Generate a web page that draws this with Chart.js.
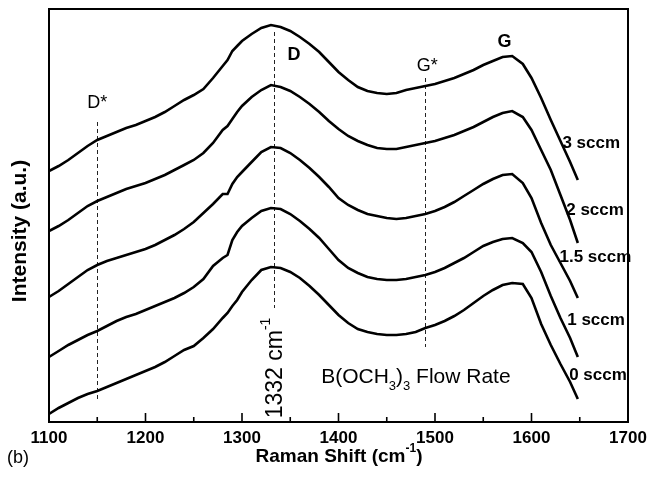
<!DOCTYPE html>
<html><head><meta charset="utf-8">
<script src="https://cdn.jsdelivr.net/npm/chart.js@4.4.0/dist/chart.umd.min.js"></script>
<style>html,body{margin:0;padding:0;background:#fff}canvas{display:block}</style>
</head><body>
<canvas id="c" width="647" height="477"></canvas>
<script>
// Raman shift (cm-1) sampling positions
const shifts = [1100,1110,1120,1130,1140,1150,1160,1170,1180,1190,1200,1210,1220,1230,1240,1250,1260,1270,1280,1285,1290,1295,
  1300,1310,1320,1330,1340,1350,1360,1370,1380,1390,1400,1410,1420,1430,1440,1450,1460,1470,1480,1490,1500,1510,1520,1530,1540,1550,1560,1570,1580,
  1591,1600,1610,1620,1630,1640,1648];
// Intensity (a.u., offset-stacked) per B(OCH3)3 flow rate
const sccm3 = [251,256,262,269,276,282,286,290,294,297,301,305,310,316,322,327,333,344,356,362,371,376,
  381,388,394,397,395,391,385,378,370,360,350,342,335,331,329,328,329,332,334,336,338,341,344,348,352,357,361,365,366,
  358,344,324,302,281,260,242];
const sccm2 = [191,196,202,209,216,221,225,229,233,236,239,243,247,252,257,262,269,279,292,296,303,310,
  316,325,332,337,335,331,325,318,310,301,293,286,281,277,274,273,273,275,277,279,281,284,287,291,295,300,305,309,311,
  305,292,272,252,227,202,179];
const sccm15 = [125,131,138,145,152,157,161,164,167,170,173,177,182,187,193,200,209,218,228,228,238,245,
  250,260,270,275,274,269,262,254,245,235,224,217,212,208,206,204,203,204,206,208,211,215,220,226,232,238,243,247,248,
  239,224,199,177,159,141,124];
const sccm1 = [65,71,77,82,87,91,96,101,105,108,112,116,120,124,129,135,143,156,164,167,182,190,
  196,204,211,214,213,208,201,193,184,173,162,154,149,145,143,142,142,143,145,147,150,154,159,164,170,176,180,183,184,
  179,170,150,126,104,84,65];
const sccm0 = [8,14,19,24,28,31,35,39,43,47,51,55,60,66,72,76,84,93,104,109,116,122,
  130,142,152,155,154,150,144,136,127,117,107,99,93,90,88,87,87,88,90,94,97,101,106,112,119,126,132,137,139,
  138,124,98,77,58,40,23];
const seriesValues = [sccm3, sccm2, sccm15, sccm1, sccm0];
const seriesLabels = ['3 sccm','2 sccm','1.5 sccm','1 sccm','0 sccm'];
// label anchors (data units: shift, intensity)
const labelShift = [1632,1636,1629,1637,1639];
const labelIntensity = [279,212,165,102,47];
// x-axis tick values
const xTicks = [1100,1200,1300,1400,1500,1600,1700];
const xMinorTicks = [1150,1250,1350,1450,1550,1650];
// dashed marker lines: position and vertical extent (data units)
const markerShift = [1150,1333,1490];
const markerLow = [20,114,75];
const markerHigh = [300,390,344];
// band labels
const bandText = ['D*','D','G*','G'];
const bandShift = [1150,1354,1492,1572];
const bandIntensity = [319,367,356,380];
const bandBold = [false,true,false,true];

const FONT = '"Liberation Sans", Arial, Helvetica, sans-serif';

function drawRich(ctx, parts, x, y, size, weight, align) {
  const fonts = parts.map(p => (weight + ' ' + (p[1]==='n'?size:Math.round(size*0.62)) + 'px ' + FONT));
  let total = 0;
  const widths = parts.map((p,i)=>{ctx.font = fonts[i]; const w = ctx.measureText(p[0]).width; total += w; return w;});
  let cx = align === 'center' ? x - total/2 : x;
  parts.forEach((p,i)=>{
    ctx.font = fonts[i];
    let dy = 0;
    if (p[1]==='sub') dy = size*0.32;
    if (p[1]==='sup') dy = -size*0.42;
    ctx.fillText(p[0], cx, y + dy);
    cx += widths[i];
  });
}

const decor = {
  id: 'decor',
  beforeDatasetsDraw(chart) {
    const {ctx, scales:{x, y}} = chart;
    ctx.save();
    ctx.strokeStyle = '#222';
    ctx.lineWidth = 1;
    ctx.setLineDash([4,3]);
    markerShift.forEach((s,i)=>{
      const px = Math.round(x.getPixelForValue(s)) + 0.5;
      ctx.beginPath();
      ctx.moveTo(px, y.getPixelForValue(markerHigh[i]));
      ctx.lineTo(px, y.getPixelForValue(markerLow[i]));
      ctx.stroke();
    });
    ctx.restore();
  },
  afterDraw(chart) {
    const {ctx, chartArea:a, scales:{x, y}} = chart;
    ctx.save();
    ctx.strokeStyle = '#000';
    ctx.lineWidth = 2;
    ctx.strokeRect(a.left, a.top, a.right - a.left, a.bottom - a.top);
    ctx.lineWidth = 1.6;
    xTicks.forEach(v=>{
      const px = x.getPixelForValue(v);
      ctx.beginPath(); ctx.moveTo(px, a.bottom); ctx.lineTo(px, a.bottom - 9); ctx.stroke();
    });
    xMinorTicks.forEach(v=>{
      const px = x.getPixelForValue(v);
      ctx.beginPath(); ctx.moveTo(px, a.bottom); ctx.lineTo(px, a.bottom - 5); ctx.stroke();
    });
    ctx.fillStyle = '#000';
    ctx.textAlign = 'center';
    ctx.textBaseline = 'middle';
    bandText.forEach((t,i)=>{
      ctx.font = (bandBold[i]?'bold ':'') + '18px ' + FONT;
      ctx.fillText(t, x.getPixelForValue(bandShift[i]), y.getPixelForValue(bandIntensity[i]));
    });
    ctx.textAlign = 'left';
    ctx.font = 'bold 17px ' + FONT;
    seriesLabels.forEach((t,i)=>{
      ctx.fillText(t, x.getPixelForValue(labelShift[i]), y.getPixelForValue(labelIntensity[i]));
    });
    ctx.textBaseline = 'alphabetic';
    drawRich(ctx, [['B(OCH','n'],['3','sub'],[')','n'],['3','sub'],[' Flow Rate','n']],
      x.getPixelForValue(1382), y.getPixelForValue(39), 21, 'normal', 'left');
    ctx.save();
    ctx.translate(x.getPixelForValue(1335), y.getPixelForValue(54));
    ctx.rotate(-Math.PI/2);
    ctx.textBaseline = 'middle';
    drawRich(ctx, [['1332 cm','n'],['-1','sup']], 0, 0, 23, 'normal', 'center');
    ctx.restore();
    ctx.textBaseline = 'middle';
    drawRich(ctx, [['Raman Shift (cm','n'],['-1','sup'],[')','n']], 339, 457, 19, 'bold', 'center');
    ctx.font = '18px ' + FONT;
    ctx.textAlign = 'left';
    ctx.fillText('(b)', 7, 458);
    ctx.save();
    ctx.translate(20, 231);
    ctx.rotate(-Math.PI/2);
    ctx.textAlign = 'center';
    ctx.font = 'bold 21px ' + FONT;
    ctx.fillText('Intensity (a.u.)', 0, 0);
    ctx.restore();
    ctx.restore();
  }
};

new Chart(document.getElementById('c'), {
  type: 'line',
  data: {
    datasets: seriesValues.map((vals, i) => ({
      label: seriesLabels[i],
      data: shifts.map((s, j) => ({x: s, y: vals[j]})),
      borderColor: '#000',
      borderWidth: 2.6,
      pointRadius: 0,
      tension: 0,
      fill: false
    }))
  },
  options: {
    responsive: false,
    animation: false,
    devicePixelRatio: 1,
    layout: {padding: {left: 49, right: 19, top: 9, bottom: 0}},
    plugins: {legend: {display: false}, tooltip: {enabled: false}},
    scales: {
      x: {
        type: 'linear', min: 1100, max: 1700,
        grid: {display: false, drawTicks: false},
        border: {display: false},
        ticks: {stepSize: 100, color: '#000', padding: 6, maxRotation: 0, autoSkip: false,
          font: {family: FONT, size: 17, weight: 'bold'},
          callback: v => String(v)},
        afterFit(s) { s.height = 55; s.paddingLeft = 0; s.paddingRight = 0; }
      },
      y: {display: false, min: 0, max: 413}
    }
  },
  plugins: [decor]
});
</script>
</body></html>
